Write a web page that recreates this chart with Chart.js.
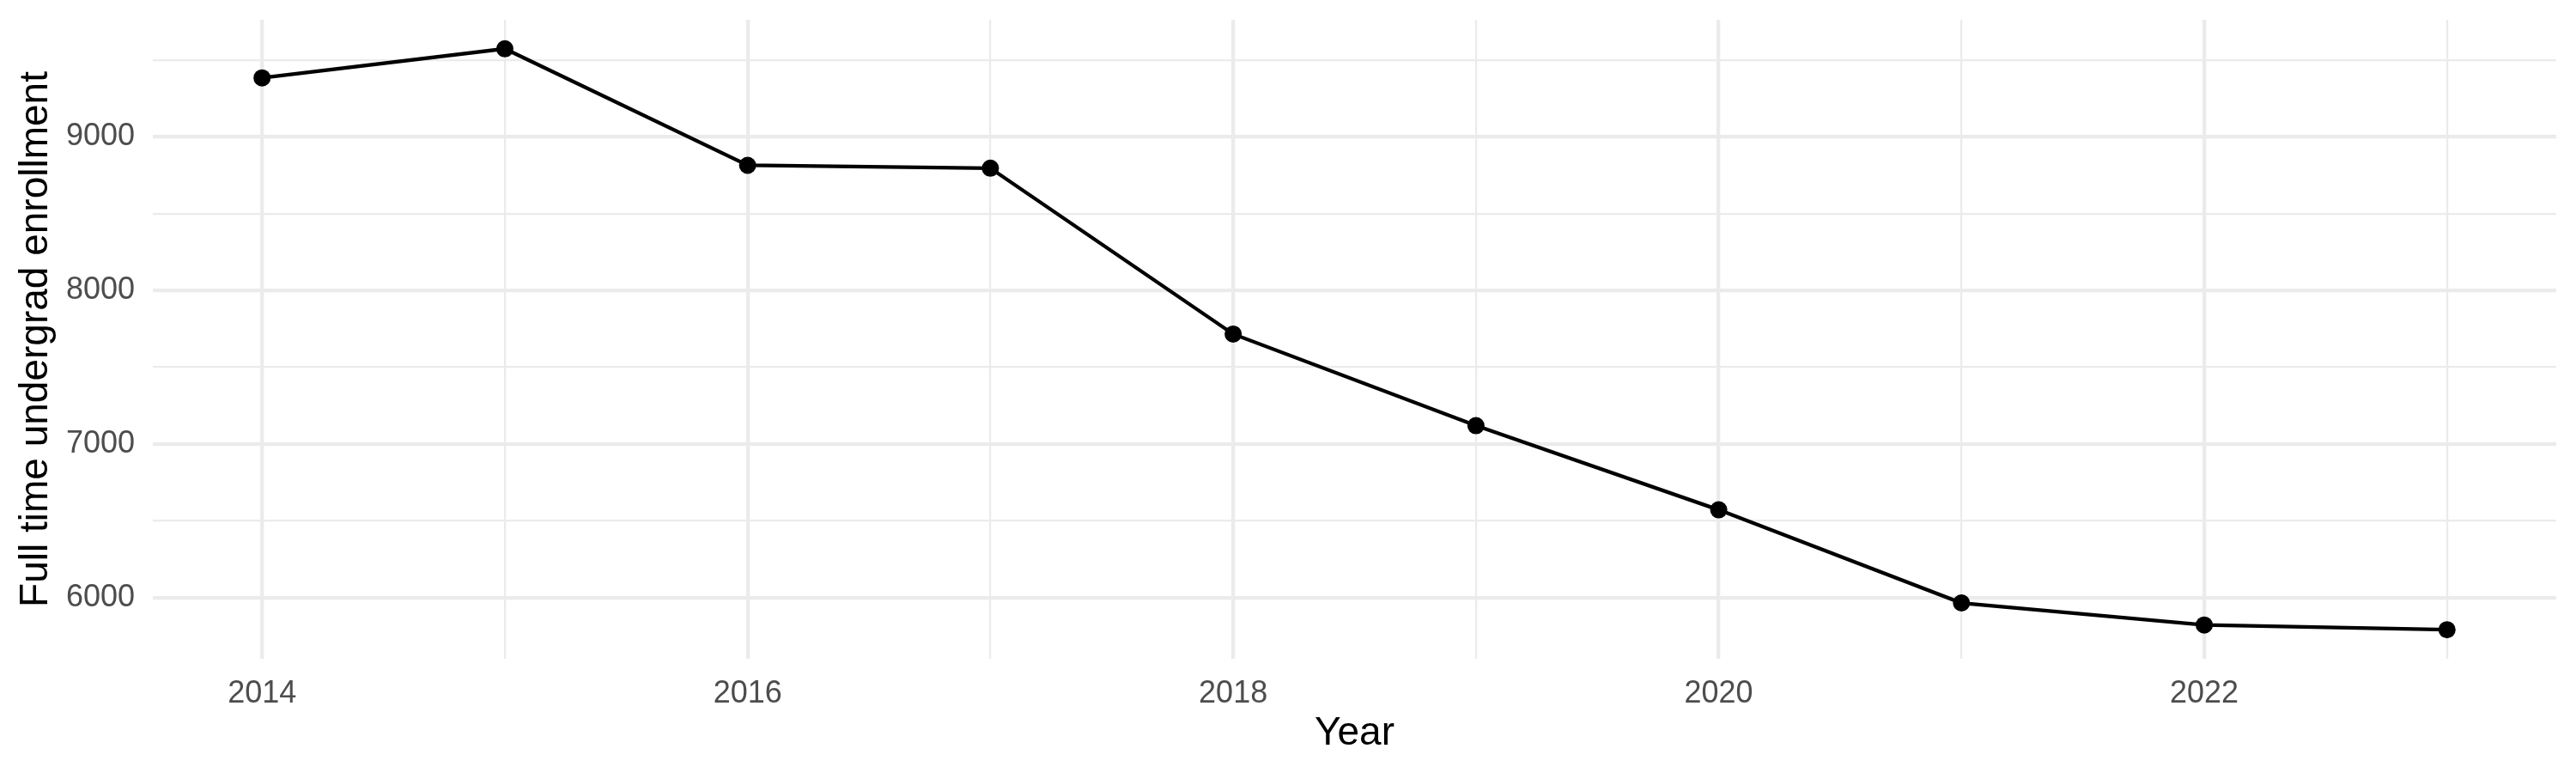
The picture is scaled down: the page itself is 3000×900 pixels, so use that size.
<!DOCTYPE html>
<html>
<head>
<meta charset="utf-8">
<script src="https://cdn.jsdelivr.net/npm/chart.js@4"></script>
<style>
  html, body { margin: 0; padding: 0; background: #fff; }
  #wrap { width: 3000px; height: 900px; }
</style>
</head>
<body>
<div id="wrap"><canvas id="chart1" width="3000" height="900"></canvas></div>
<script>
const years = [2014, 2015, 2016, 2017, 2018, 2019, 2020, 2021, 2022, 2023];
const enrollment = [9383, 9572, 8814, 8795, 7716, 7120, 6572, 5966, 5823, 5792];
const yTicks = [6000, 6500, 7000, 7500, 8000, 8500, 9000, 9500];

// ggplot style 5% expansion
const xPad = (years[years.length - 1] - years[0]) * 0.05;
const yLo = Math.min(...enrollment), yHi = Math.max(...enrollment);
const yPad = (yHi - yLo) * 0.05;

const gridCol = '#EBEBEB';
const fontFam = '"Liberation Sans", Arial, Helvetica, sans-serif';

const ctx = document.getElementById('chart1');

new Chart(ctx, {
    type: 'line',
    data: {
        datasets: [{
            data: years.map((y, i) => ({ x: y, y: enrollment[i] })),
            borderColor: '#000000',
            backgroundColor: '#000000',
            borderWidth: 4.3,
            pointRadius: 10,
            pointBorderWidth: 0,
            tension: 0,
            fill: false
        }]
    },
    options: {
        responsive: false,
        animation: false,
        devicePixelRatio: 1,
        layout: { padding: { left: 15, top: 23, right: 23, bottom: 0 } },
        plugins: { legend: { display: false }, tooltip: { enabled: false } },
        scales: {
            x: {
                type: 'linear',
                min: years[0] - xPad,
                max: years[years.length - 1] + xPad,
                afterBuildTicks: (scale) => { scale.ticks = years.map(v => ({ value: v })); },
                afterFit: (scale) => {
                    scale.height = 133;
                    scale.paddingLeft = 0;
                    scale.paddingRight = 0;
                },
                border: { display: false },
                grid: {
                    color: gridCol,
                    drawTicks: false,
                    lineWidth: (c) => (c.tick && c.tick.value % 2 === 0) ? 4.3 : 2.2
                },
                ticks: {
                    padding: 19,
                    color: '#4D4D4D',
                    font: { family: fontFam, size: 36 },
                    maxRotation: 0,
                    autoSkip: false,
                    callback: (v) => v % 2 === 0 ? String(v) : ''
                },
                title: {
                    display: true,
                    text: 'Year',
                    color: '#000000',
                    font: { family: fontFam, size: 46 },
                    padding: { top: 0, bottom: 18 }
                }
            },
            y: {
                min: yLo - yPad,
                max: yHi + yPad,
                afterBuildTicks: (scale) => { scale.ticks = yTicks.map(v => ({ value: v })); },
                afterFit: (scale) => {
                    scale.width = 163;
                    scale.paddingTop = 0;
                    scale.paddingBottom = 0;
                },
                border: { display: false },
                grid: {
                    color: gridCol,
                    drawTicks: false,
                    lineWidth: (c) => (c.tick && c.tick.value % 1000 === 0) ? 4.3 : 2.2
                },
                ticks: {
                    padding: 21,
                    color: '#4D4D4D',
                    font: { family: fontFam, size: 36 },
                    autoSkip: false,
                    callback: (v) => v % 1000 === 0 ? String(v) : ''
                },
                title: {
                    display: true,
                    text: 'Full time undergrad enrollment',
                    color: '#000000',
                    font: { family: fontFam, size: 46 },
                    padding: { top: 0, bottom: 0 }
                }
            }
        }
    }
});
</script>
</body>
</html>
